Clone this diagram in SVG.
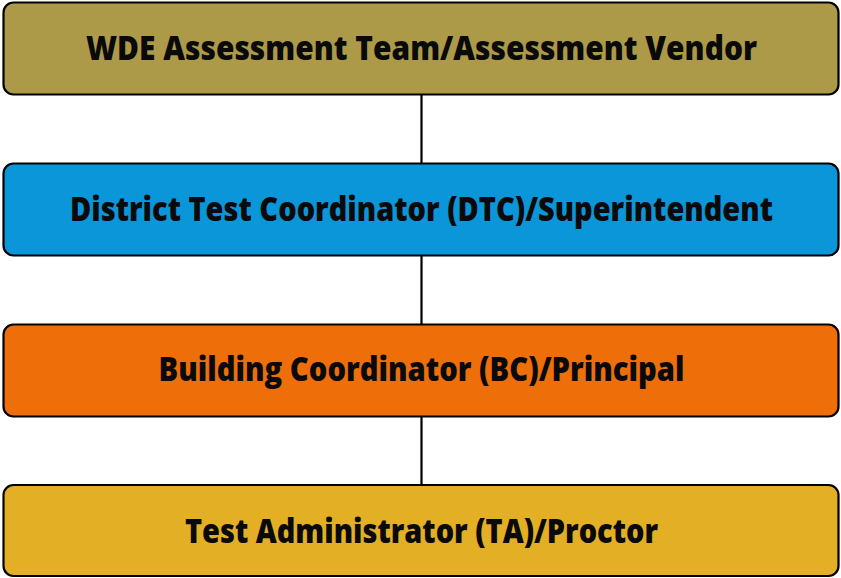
<svg xmlns="http://www.w3.org/2000/svg" width="841" height="578" viewBox="0 0 841 578">
<style>
.box{stroke:#000;stroke-width:2.2}
.lbl{font-family:"Open Sans","Liberation Sans",sans-serif;font-weight:800;font-size:33px;fill:#0a0a0a;text-anchor:middle}
.conn{stroke:#000;stroke-width:2.2;fill:none}
</style>
<rect width="841" height="578" fill="#fff"/>
<g id="connectors">
<line class="conn" x1="421.5" y1="95" x2="421.5" y2="163"/>
<line class="conn" x1="421.5" y1="256" x2="421.5" y2="324"/>
<line class="conn" x1="421.5" y1="417" x2="421.5" y2="485"/>
</g>
<g id="wde">
<rect class="box" x="3.5" y="2.5" width="835" height="92" rx="10" fill="#AD9A48"/>
<text class="lbl" x="421.5" y="60" textLength="671" lengthAdjust="spacingAndGlyphs">WDE Assessment Team/Assessment Vendor</text>
</g>
<g id="dtc">
<rect class="box" x="3.5" y="163.5" width="835" height="92" rx="10" fill="#0A96D8"/>
<text class="lbl" x="421.5" y="221" textLength="703" lengthAdjust="spacingAndGlyphs">District Test Coordinator (DTC)/Superintendent</text>
</g>
<g id="bc">
<rect class="box" x="3.5" y="324.5" width="835" height="92" rx="10" fill="#EE6E0A"/>
<text class="lbl" x="421.5" y="381" textLength="526" lengthAdjust="spacingAndGlyphs">Building Coordinator (BC)/Principal</text>
</g>
<g id="ta">
<rect class="box" x="3.5" y="485" width="835" height="91" rx="10" fill="#E2AF25"/>
<text class="lbl" x="421.5" y="543" textLength="473" lengthAdjust="spacingAndGlyphs">Test Administrator (TA)/Proctor</text>
</g>
</svg>
